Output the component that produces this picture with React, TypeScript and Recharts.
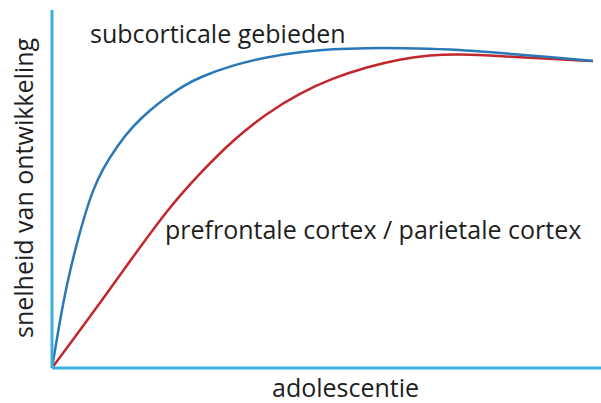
import React from "react";
import { LineChart, Line, XAxis, YAxis } from "recharts";

const subcorticalX = [0, 1.46, 2.73, 4.19, 6.01, 7.47, 9.11, 11.84, 14.75, 17.85, 20.95, 23.86, 26.96, 32.97, 39.16, 45.17, 51.18, 57.38, 63.39, 72.5, 81.6, 90.71, 98.54];
const subcorticalY = [0, 13.41, 23.46, 32.96, 43.02, 49.72, 55.31, 62.01, 67.6, 72.07, 75.7, 78.77, 81.28, 84.64, 86.87, 88.27, 89.11, 89.39, 89.39, 89.11, 87.99, 86.87, 85.75];

const prefrontalX = [0, 4.19, 8.74, 14.75, 20.95, 26.96, 32.97, 39.16, 45.17, 51.18, 57.38, 63.39, 68.85, 74.32, 81.6, 90.71, 98.54];
const prefrontalY = [0, 8.66, 18.16, 31.01, 44.13, 54.47, 63.69, 71.23, 76.82, 81.01, 84.08, 86.31, 87.43, 87.71, 87.15, 86.31, 85.75];

const labelSubcortical = "subcorticale gebieden";
const labelPrefrontal = "prefrontale cortex / parietale cortex";
const xTitle = "adolescentie";
const yTitle = "snelheid van ontwikkeling";

const subData = subcorticalX.map((x, i) => ({ x, y: subcorticalY[i] }));
const preData = prefrontalX.map((x, i) => ({ x, y: prefrontalY[i] }));

const AXIS = "#3eaedb";
const FONT = "'Open Sans', sans-serif";
const TEXT = "#1e1e1e";

export default function App() {
  return (
    <div style={{ position: "fixed", left: 0, top: 0, width: 601, height: 403, background: "#fff" }}>
      <LineChart width={601} height={403} margin={{ top: 10, right: 0, bottom: 0, left: 0 }}>
        <XAxis
          type="number"
          dataKey="x"
          domain={[0, 100]}
          height={35}
          tick={false}
          tickLine={false}
          axisLine={{ stroke: AXIS, strokeWidth: 3 }}
        />
        <YAxis
          type="number"
          dataKey="y"
          domain={[0, 100]}
          width={52}
          tick={false}
          tickLine={false}
          axisLine={{ stroke: AXIS, strokeWidth: 3 }}
        />
        <Line
          data={preData}
          dataKey="y"
          type="basis"
          stroke="#c1272d"
          strokeWidth={2.5}
          dot={false}
          isAnimationActive={false}
        />
        <Line
          data={subData}
          dataKey="y"
          type="basis"
          stroke="#2a78b8"
          strokeWidth={2.5}
          dot={false}
          isAnimationActive={false}
        />
      </LineChart>
      <svg width={601} height={403} style={{ position: "absolute", left: 0, top: 0, pointerEvents: "none" }}>
        <text x={90} y={43} fontFamily={FONT} fontSize={25} fill={TEXT}>{labelSubcortical}</text>
        <text x={165} y={239} fontFamily={FONT} fontSize={25} fill={TEXT}>{labelPrefrontal}</text>
        <text x={272} y={397} fontFamily={FONT} fontSize={25} fill={TEXT}>{xTitle}</text>
        <text
          x={0}
          y={0}
          transform="translate(33,188) rotate(-90)"
          textAnchor="middle"
          fontFamily={FONT}
          fontSize={25}
          fill={TEXT}
        >
          {yTitle}
        </text>
      </svg>
    </div>
  );
}
